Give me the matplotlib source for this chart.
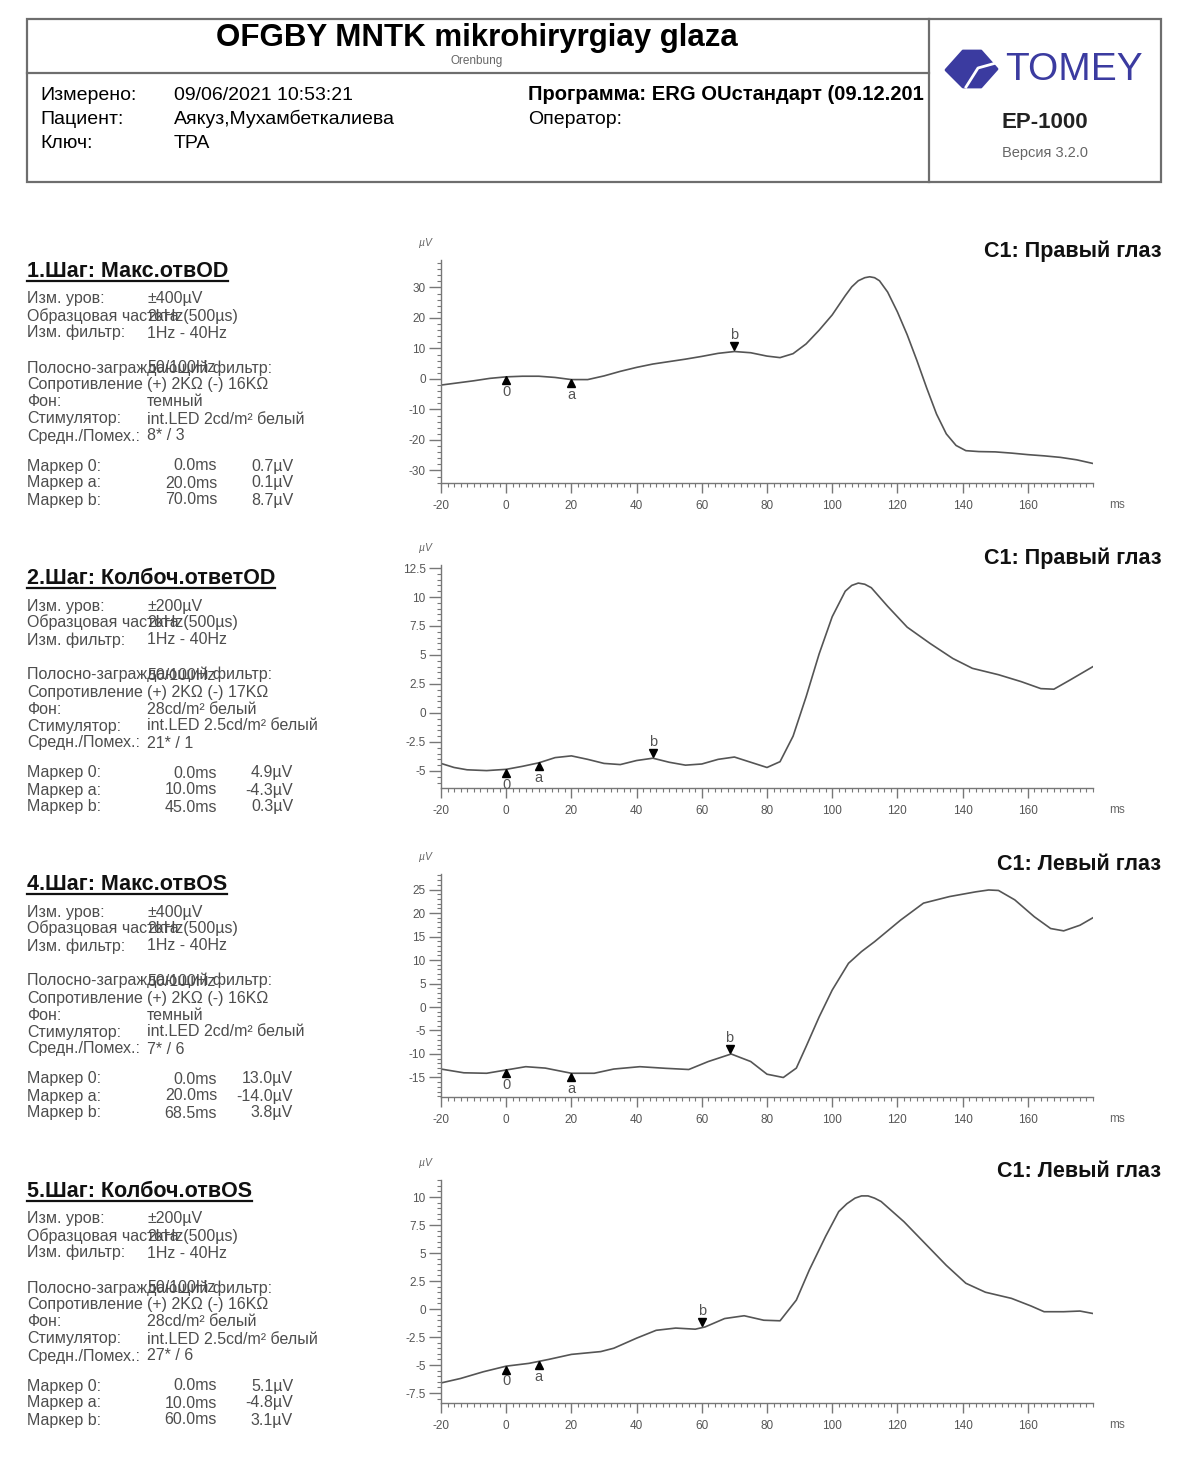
import matplotlib
matplotlib.use('Agg')
import matplotlib.pyplot as plt
from matplotlib import font_manager
from matplotlib.patches import Rectangle, Polygon
from matplotlib.ticker import MultipleLocator, FixedLocator, FuncFormatter
from matplotlib.transforms import offset_copy
import numpy as np

plt.rcParams['font.family'] = ['Liberation Sans', 'DejaVu Sans']
plt.rcParams['axes.unicode_minus'] = False

names = {f.name for f in font_manager.fontManager.ttflist}
NARROW = 'Liberation Sans Narrow' if 'Liberation Sans Narrow' in names else 'Liberation Sans'

# ---------------- data ----------------
t1 = [-20, -10, -5, 0, 5, 10, 15, 20, 25, 30, 35, 40, 45, 50, 55, 60, 65, 70, 75, 80,
      84, 88, 92, 96, 100, 104, 106, 108, 110, 111.5, 113, 114.5, 117, 120, 123, 126, 129, 132, 135, 138,
      141, 145, 150, 155, 160, 165, 170, 175, 180]
v1 = [-2.0, -0.6, 0.2, 0.7, 0.9, 0.9, 0.5, -0.2, -0.2, 1.0, 2.5, 3.8, 4.9, 5.7, 6.5, 7.4, 8.4, 9.0, 8.6, 7.5,
      7.0, 8.3, 11.5, 16.0, 21.0, 27.3, 30.2, 32.2, 33.2, 33.5, 33.2, 32.2, 28.5, 22.0, 14.5, 6.0, -3.0, -11.5, -18.0, -21.8,
      -23.5, -23.8, -23.9, -24.3, -24.8, -25.2, -25.7, -26.5, -27.7]

t2 = [-20, -16, -12, -6, 0, 5, 10, 15, 20, 25, 30, 35, 40, 45, 50, 55, 60, 65, 70, 75,
      80, 84, 88, 92, 96, 100, 104, 106, 108, 110, 112, 117, 123, 130, 137, 143, 151, 158, 164, 168,
      173, 180]
v2 = [-4.35, -4.7, -4.9, -4.97, -4.86, -4.6, -4.3, -3.85, -3.7, -4.0, -4.35, -4.45, -4.1, -3.9, -4.25, -4.5, -4.4, -4.0, -3.8, -4.25,
      -4.7, -4.2, -2.0, 1.4, 5.1, 8.3, 10.5, 11.0, 11.2, 11.1, 10.8, 9.2, 7.4, 6.0, 4.7, 3.85, 3.3, 2.7, 2.1, 2.05,
      2.85, 4.0]

t3 = [-20, -13, -6, 0, 6, 12, 20, 27, 33, 41, 49, 56, 62, 69, 75, 80, 85, 89, 92, 96,
      100, 105, 109, 113, 121, 128, 136, 144, 148, 151, 156, 162, 167, 171, 176, 180]
v3 = [-13.2, -14.0, -14.1, -13.4, -12.7, -13.0, -14.1, -14.1, -13.2, -12.7, -13.05, -13.3, -11.6, -10.0, -11.6, -14.3, -15.0, -13.0, -8.4, -2.1,
      3.6, 9.3, 11.8, 13.9, 18.5, 22.1, 23.5, 24.5, 24.9, 24.8, 22.8, 19.2, 16.7, 16.2, 17.4, 19.0]

t4 = [-20, -14, -7, 0, 7, 13, 20, 29, 33, 40, 46, 52, 58, 61, 67, 73, 79, 84, 89, 93,
      98, 102, 104.5, 107, 109, 111, 113, 115, 122, 128, 135, 141, 147, 155, 161, 165, 171, 176, 180]
v4 = [-6.6, -6.2, -5.6, -5.1, -4.85, -4.5, -4.05, -3.8, -3.5, -2.6, -1.9, -1.7, -1.8, -1.6, -0.85, -0.6, -1.0, -1.05, 0.8, 3.5,
      6.5, 8.7, 9.4, 9.9, 10.1, 10.1, 9.9, 9.6, 7.8, 6.0, 3.9, 2.3, 1.5, 0.95, 0.27, -0.24, -0.24, -0.18, -0.4]

times = [t1, t2, t3, t4]
volts = [v1, v2, v3, v4]

x_ticks = list(range(-20, 161, 20))
y_ticks = [[-30, -20, -10, 0, 10, 20, 30],
           [-5, -2.5, 0, 2.5, 5, 7.5, 10, 12.5],
           [-15, -10, -5, 0, 5, 10, 15, 20, 25],
           [-7.5, -5, -2.5, 0, 2.5, 5, 7.5, 10]]
y_minor = [2, 0.5, 1, 0.5]
y_lims = [(-34.1, 39.0), (-6.47, 12.76), (-19.15, 28.3), (-8.39, 11.52)]

step_titles = ['1.Шаг: Макс.отвOD', '2.Шаг: Колбоч.ответOD', '4.Шаг: Макс.отвOS', '5.Шаг: Колбоч.отвOS']
eye_titles = ['C1: Правый глаз', 'C1: Правый глаз', 'C1: Левый глаз', 'C1: Левый глаз']

levels = ['±400µV', '±200µV', '±400µV', '±200µV']
rates = ['2kHz(500µs)'] * 4
filters = ['1Hz - 40Hz'] * 4
notches = ['50/100Hz'] * 4
impedances = ['(+) 2KΩ (-) 16KΩ', '(+) 2KΩ (-) 17KΩ', '(+) 2KΩ (-) 16KΩ', '(+) 2KΩ (-) 16KΩ']
backgrounds = ['темный', '28cd/m² белый', 'темный', '28cd/m² белый']
stimulators = ['int.LED 2cd/m² белый', 'int.LED 2.5cd/m² белый', 'int.LED 2cd/m² белый', 'int.LED 2.5cd/m² белый']
averages = ['8* / 3', '21* / 1', '7* / 6', '27* / 6']

marker_names = ['0', 'a', 'b']
marker_ms = [[0.0, 20.0, 70.0], [0.0, 10.0, 45.0], [0.0, 20.0, 68.5], [0.0, 10.0, 60.0]]
marker_uv = [[0.7, 0.1, 8.7], [4.9, -4.3, 0.3], [13.0, -14.0, 3.8], [5.1, -4.8, 3.1]]

header_labels = ['Измерено:', 'Пациент:', 'Ключ:']
header_values = ['09/06/2021 10:53:21', 'Аякуз,Мухамбеткалиева', 'TPA']

# ---------------- layout ----------------
W, H = 1188, 1465
fig = plt.figure(figsize=(W / 100, H / 100), dpi=100)
pg = fig.add_axes([0, 0, 1, 1])
pg.set_xlim(0, W)
pg.set_ylim(H, 0)
pg.axis('off')

frame_c = '#6e6e6e'
grey = '#4d4d4d'

# header box
pg.add_patch(Rectangle((27, 19), 1134, 163, fill=False, ec=frame_c, lw=1.6))
pg.plot([929, 929], [19, 182], color=frame_c, lw=1.6)
pg.plot([27, 929], [73, 73], color=frame_c, lw=1.6)

pg.text(477, 46, 'OFGBY MNTK mikrohiryrgiay glaza', ha='center', va='baseline',
        fontsize=22.5, fontweight='bold', color='black')
pg.text(477, 64, 'Orenbung', ha='center', va='baseline', fontsize=8.5, color='#666')
for k in range(3):
    pg.text(40, 100 + 24 * k, header_labels[k], ha='left', va='baseline', fontsize=14, color='black')
    pg.text(174, 100 + 24 * k, header_values[k], ha='left', va='baseline', fontsize=14, color='black')
pg.text(528, 100, 'Программа: ERG OUстандарт (09.12.201', ha='left', va='baseline',
        fontsize=14.5, fontweight='bold', color='black')
pg.text(528, 124, 'Оператор:', ha='left', va='baseline', fontsize=14, color='black')

# TOMEY logo
blue = '#3b3ba0'
pg.add_patch(Polygon([(946, 70), (963, 51), (981, 51), (997, 69), (981, 87), (963, 87)],
                     closed=True, fc=blue, ec=blue, joinstyle='round', lw=2))
pg.plot([966, 978, 996], [87, 68, 63], color='white', lw=2)
pg.text(1074, 70, 'TOMEY', ha='center', va='center', fontsize=28, color=blue)
pg.text(1045, 122, 'EP-1000', ha='center', va='center', fontsize=16, fontweight='bold', color='#222')
pg.text(1045, 153, 'Версия 3.2.0', ha='center', va='center', fontsize=10.5, color='#666')

# ---------------- step panels ----------------
panel_off = [0, 307, 613, 920]
chart_bottom = [483, 788, 1097, 1403]
chart_h = 223
x_left, x_right = 441, 1093
fs = 11.5
bl = 5.5   # baseline shift for the small panel text

title_texts = []
for i in range(4):
    o = panel_off[i]
    tt = pg.text(27, 277 + o, step_titles[i], ha='left', va='baseline', fontsize=15.5,
                 fontweight='bold', color='#111')
    title_texts.append(tt)

    rows = [(298, 'Изм. уров:', levels[i]),
            (315, 'Образцовая частота', rates[i]),
            (332, 'Изм. фильтр:', filters[i]),
            (367, 'Полосно-заграждающий фильтр:', notches[i]),
            (384, 'Сопротивление', impedances[i]),
            (401, 'Фон:', backgrounds[i]),
            (418, 'Стимулятор:', stimulators[i]),
            (435, 'Средн./Помех.:', averages[i])]
    for y, lab, val in rows:
        pg.text(27, y + o + bl, lab, ha='left', va='baseline', fontsize=fs, color=grey)
        pg.text(147, y + o + bl, val, ha='left', va='baseline', fontsize=fs, color=grey)
    for k in range(3):
        y = 465 + 17 * k + o + bl
        pg.text(27, y, 'Маркер %s:' % marker_names[k], ha='left', va='baseline', fontsize=fs, color=grey)
        pg.text(217, y, '%.1fms' % marker_ms[i][k], ha='right', va='baseline', fontsize=fs, color=grey)
        pg.text(293, y, '%.1fµV' % marker_uv[i][k], ha='right', va='baseline', fontsize=fs, color=grey)

    # chart
    b = chart_bottom[i]
    ax = fig.add_axes([x_left / W, 1 - b / H, (x_right - x_left) / W, chart_h / H])
    ax.set_facecolor('none')
    ax.plot(times[i], volts[i], color='#555555', lw=1.2, solid_joinstyle='round')
    ax.set_xlim(-20, 180)
    ax.set_ylim(*y_lims[i])
    for s in ['top', 'right']:
        ax.spines[s].set_visible(False)
    for s in ['left', 'bottom']:
        ax.spines[s].set_color('#777')
        ax.spines[s].set_linewidth(1.0)
    ax.xaxis.set_major_locator(FixedLocator(x_ticks))
    ax.xaxis.set_minor_locator(MultipleLocator(2))
    ax.yaxis.set_major_locator(FixedLocator(y_ticks[i]))
    ax.yaxis.set_minor_locator(MultipleLocator(y_minor[i]))
    ax.yaxis.set_major_formatter(FuncFormatter(lambda v, p: '%g' % v))
    ax.tick_params(axis='x', which='major', direction='out', length=7, width=1, color='#777',
                   pad=5, labelsize=8.5, labelcolor='#555')
    ax.tick_params(axis='x', which='minor', direction='out', length=3, width=0.8, color='#777')
    ax.tick_params(axis='y', which='major', direction='out', length=9, width=1, color='#777',
                   pad=2, labelsize=8.5, labelcolor='#555')
    ax.tick_params(axis='y', which='minor', direction='out', length=3, width=0.8, color='#777')
    for lbl in ax.get_xticklabels() + ax.get_yticklabels():
        lbl.set_family(NARROW)

    # markers 0 / a / b
    for k in range(3):
        tm = marker_ms[i][k]
        yv = np.interp(tm, times[i], volts[i])
        if marker_names[k] == 'b':
            tr = offset_copy(ax.transData, fig=fig, x=0, y=4, units='points')
            ax.plot([tm], [yv], marker='v', color='black', ms=6, transform=tr)
            ax.annotate('b', (tm, yv), xytext=(0, 12), textcoords='offset points',
                        ha='center', va='center', fontsize=10.5, color='#555', family=NARROW)
        else:
            tr = offset_copy(ax.transData, fig=fig, x=0, y=-2.5, units='points')
            ax.plot([tm], [yv], marker='^', color='black', ms=6, transform=tr)
            ax.annotate(marker_names[k], (tm, yv), xytext=(0, -11), textcoords='offset points',
                        ha='center', va='center', fontsize=10.5, color='#555', family=NARROW)

    pg.text(425, b - chart_h - 17, 'µV', ha='center', va='center', fontsize=7.5, color='#666',
            style='italic')
    pg.text(1117, b + 22, 'ms', ha='center', va='center', fontsize=8.5, color='#666', family=NARROW)
    pg.text(1161, 257 + panel_off[i], eye_titles[i], ha='right', va='baseline', fontsize=15.5,
            fontweight='bold', color='#111')

# underline the step titles
fig.canvas.draw()
rend = fig.canvas.get_renderer()
inv = pg.transData.inverted()
for i, tt in enumerate(title_texts):
    bb = tt.get_window_extent(rend)
    (x0, _), (x1, _) = inv.transform([[bb.x0, bb.y0], [bb.x1, bb.y1]])
    yu = 281 + panel_off[i]
    pg.plot([x0, x1], [yu, yu], color='#111', lw=1.6)

fig.savefig('out.png', dpi=100)
